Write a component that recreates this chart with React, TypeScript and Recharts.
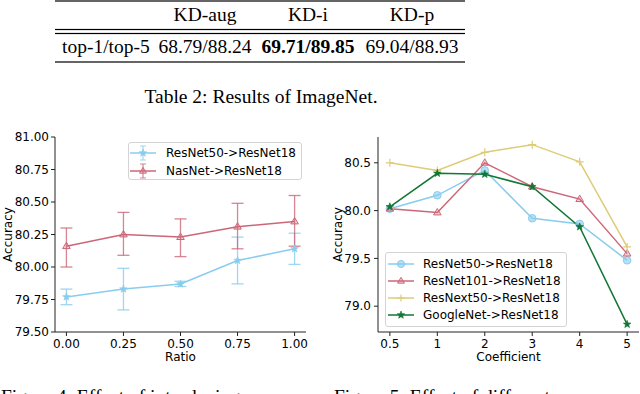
import React from "react";
import { LineChart, Line, XAxis, YAxis, ErrorBar, Legend } from "recharts";

const SANS = '"DejaVu Sans", sans-serif';
const SERIF = '"Liberation Serif", "Times New Roman", serif';

const BLUE = "#88CCEE";
const RED = "#CC6677";
const YELLOW = "#DDCC77";
const GREEN = "#117733";

// Table 2
const tableHeads = ["KD-aug", "KD-i", "KD-p"];
const tableRowLabel = "top-1/top-5";
const tableValues = ["68.79/88.24", "69.71/89.85", "69.04/88.93"];
const tableBest = 1;

// Figure 4: ratio
const ratios = [0, 0.25, 0.5, 0.75, 1.0];
const r50Mean = [79.77, 79.83, 79.87, 80.05, 80.14];
const r50Low = [79.71, 79.67, 79.85, 79.87, 80.02];
const r50High = [79.83, 79.99, 79.89, 80.23, 80.26];
const nasMean = [80.16, 80.25, 80.23, 80.31, 80.35];
const nasLow = [80.0, 80.09, 80.08, 80.14, 80.16];
const nasHigh = [80.3, 80.42, 80.37, 80.49, 80.55];
const ratioTicks = [0, 0.25, 0.5, 0.75, 1.0];
const accTicksL = [79.5, 79.75, 80.0, 80.25, 80.5, 80.75, 81.0];

// Figure 5: coefficient
const coefLabels = ["0.5", "1", "2", "3", "4", "5"];
const cR50 = [80.02, 80.16, 80.42, 79.92, 79.86, 79.48];
const cR101 = [80.02, 79.98, 80.5, 80.25, 80.12, 79.55];
const cRx50 = [80.5, 80.42, 80.61, 80.69, 80.51, 79.62];
const cGoog = [80.04, 80.39, 80.38, 80.25, 79.83, 78.81];
const accTicksR = [79.0, 79.5, 80.0, 80.5];

const ratioData = ratios.map((r, i) => ({
  ratio: r,
  r50: r50Mean[i],
  r50Err: [r50Mean[i] - r50Low[i], r50High[i] - r50Mean[i]],
  nas: nasMean[i],
  nasErr: [nasMean[i] - nasLow[i], nasHigh[i] - nasMean[i]],
}));

const coefData = coefLabels.map((_, i) => ({
  idx: i,
  r50: cR50[i],
  r101: cR101[i],
  rx50: cRx50[i],
  goog: cGoog[i],
}));

const FS = 12;
const tickStyle = { fontFamily: SANS, fontSize: FS, fill: "#000" };

// markers
function starPath(cx: number, cy: number, r: number) {
  let d = "";
  for (let k = 0; k < 10; k++) {
    const rr = k % 2 === 0 ? r : r * 0.42;
    const a = -Math.PI / 2 + (k * Math.PI) / 5;
    d += (k === 0 ? "M" : "L") + (cx + rr * Math.cos(a)).toFixed(2) + "," + (cy + rr * Math.sin(a)).toFixed(2);
  }
  return d + "Z";
}

const Star = ({ cx, cy, r, color }: any) => (
  <path d={starPath(cx, cy, r)} fill={color} stroke={color} strokeWidth={0.6} />
);
const Tri = ({ cx, cy, r, color }: any) => (
  <path
    d={`M${cx},${cy - r}L${cx + r * 0.95},${cy + r * 0.6}L${cx - r * 0.95},${cy + r * 0.6}Z`}
    fill={color}
    fillOpacity={0.3}
    stroke={color}
    strokeWidth={1}
  />
);
const Circ = ({ cx, cy, r, color }: any) => (
  <circle cx={cx} cy={cy} r={r} fill={color} fillOpacity={0.6} stroke={color} strokeWidth={1} />
);
const Plus = ({ cx, cy, r, color }: any) => (
  <path d={`M${cx - r},${cy}H${cx + r}M${cx},${cy - r}V${cy + r}`} stroke={color} strokeWidth={1.2} />
);

const markers: Record<string, any> = { star: Star, tri: Tri, circ: Circ, plus: Plus };

const dotFn = (kind: string, color: string, r: number) => (p: any) => {
  const M = markers[kind];
  return <M key={"d" + p.index} cx={p.cx} cy={p.cy} r={r} color={color} />;
};

type Item = { label: string; color: string; kind: string; err?: boolean };

const legendL: Item[] = [
  { label: "ResNet50->ResNet18", color: BLUE, kind: "star", err: true },
  { label: "NasNet->ResNet18", color: RED, kind: "tri", err: true },
];
const legendR: Item[] = [
  { label: "ResNet50->ResNet18", color: BLUE, kind: "circ" },
  { label: "ResNet101->ResNet18", color: RED, kind: "tri" },
  { label: "ResNext50->ResNet18", color: YELLOW, kind: "plus" },
  { label: "GoogleNet->ResNet18", color: GREEN, kind: "star" },
];

const LegendBox = ({ items, width, height, rowH, padTop, padLeft, gap }: any) => (
  <div
    style={{
      width,
      height,
      boxSizing: "border-box",
      border: "1px solid #d4d4d4",
      borderRadius: 3,
      background: "rgba(255,255,255,0.85)",
      paddingTop: padTop,
    }}
  >
    {items.map((it: Item) => {
      const M = markers[it.kind];
      return (
        <div key={it.label} style={{ display: "flex", alignItems: "center", height: rowH }}>
          <svg width={26} height={14} style={{ marginLeft: padLeft, marginRight: gap, overflow: "visible", flex: "none" }}>
            <line x1={0} y1={7} x2={26} y2={7} stroke={it.color} strokeWidth={1.5} />
            {it.err && (
              <path d="M13,0V14M10,0H16M10,14H16" stroke={it.color} strokeWidth={1.2} strokeOpacity={0.8} />
            )}
            <M cx={13} cy={7} r={it.kind === "star" ? 4 : 3.6} color={it.color} />
          </svg>
          <span style={{ fontFamily: SANS, fontSize: FS, lineHeight: 1, color: "#000", whiteSpace: "nowrap" }}>
            {it.label}
          </span>
        </div>
      );
    })}
  </div>
);

const TopTable = () => {
  const rule = (y: number) => <rect x={55} y={y - 0.6} width={410} height={1.2} fill="#000" />;
  const cols = [205, 308, 412];
  return (
    <svg width={640} height={120} style={{ position: "absolute", left: 0, top: 0 }}>
      {rule(1)}
      {rule(29.5)}
      {rule(33.5)}
      {rule(62)}
      {tableHeads.map((h, i) => (
        <text key={h} x={cols[i]} y={21} textAnchor="middle" fontFamily={SERIF} fontSize={19.5} fill="#000">
          {h}
        </text>
      ))}
      <text x={62} y={53} fontFamily={SERIF} fontSize={19.5} fill="#000">
        {tableRowLabel}
      </text>
      {tableValues.map((v, i) => (
        <text
          key={v}
          x={cols[i]}
          y={53}
          textAnchor="middle"
          fontFamily={SERIF}
          fontSize={19.5}
          fontWeight={i === tableBest ? "bold" : "normal"}
          fill="#000"
        >
          {v}
        </text>
      ))}
      <text x={261} y={103} textAnchor="middle" fontFamily={SERIF} fontSize={19.5} fill="#000">
        Table 2: Results of ImageNet.
      </text>
    </svg>
  );
};

const BottomCaptions = () => (
  <svg width={640} height={30} style={{ position: "absolute", left: 0, top: 370 }}>
    <text x={1} y={33} fontFamily={SERIF} fontSize={19.5} fill="#000">
      Figure 4: Effect of introducing
    </text>
    <text x={334} y={33} fontFamily={SERIF} fontSize={19.5} fill="#000">
      Figure 5: Effect of different
    </text>
  </svg>
);

const axisLine = { stroke: "#222", strokeWidth: 1 };

const RatioChart = () => (
  <div style={{ position: "absolute", left: 0, top: 120 }}>
    <LineChart width={320} height={254} data={ratioData} margin={{ top: 17, right: 14, bottom: 0, left: 5 }}>
      <XAxis
        dataKey="ratio"
        type="number"
        domain={[-0.05, 1.05]}
        allowDataOverflow
        ticks={ratioTicks}
        tickFormatter={(v: number) => v.toFixed(2)}
        tick={tickStyle}
        tickSize={4}
        tickMargin={3}
        axisLine={axisLine}
        tickLine={axisLine}
        height={42}
        label={{ value: "Ratio", position: "insideBottom", offset: 13, style: tickStyle }}
      />
      <XAxis xAxisId="top" orientation="top" dataKey="ratio" type="number" domain={[-0.05, 1.05]} allowDataOverflow tick={false} tickLine={false} axisLine={axisLine} height={0} />
      <YAxis
        type="number"
        domain={[79.5, 81.0]}
        allowDataOverflow
        ticks={accTicksL}
        tickFormatter={(v: number) => v.toFixed(2)}
        tick={tickStyle}
        tickSize={4}
        tickMargin={2}
        axisLine={axisLine}
        tickLine={axisLine}
        width={50}
        label={{ value: "Accuracy", angle: -90, position: "insideLeft", offset: 3, style: { ...tickStyle, textAnchor: "middle" } }}
      />
      <YAxis yAxisId="right" orientation="right" type="number" domain={[79.5, 81.0]} tick={false} tickLine={false} axisLine={axisLine} width={0} />
      <Line dataKey="r50" stroke={BLUE} strokeWidth={1.5} dot={dotFn("star", BLUE, 4)} isAnimationActive={false}>
        <ErrorBar dataKey="r50Err" direction="y" width={6} stroke={BLUE} strokeWidth={1.3} strokeOpacity={0.8} isAnimationActive={false} />
      </Line>
      <Line dataKey="nas" stroke={RED} strokeWidth={1.5} dot={dotFn("tri", RED, 4)} isAnimationActive={false}>
        <ErrorBar dataKey="nasErr" direction="y" width={6} stroke={RED} strokeWidth={1.3} strokeOpacity={0.8} isAnimationActive={false} />
      </Line>
      <Legend
        layout="vertical"
        align="center"
        verticalAlign="middle"
        wrapperStyle={{ left: 128, top: 22, width: "auto", height: "auto" }}
        content={() => <LegendBox items={legendL} width={174} height={38} rowH={18} padTop={1} padLeft={1} gap={10} />}
      />
    </LineChart>
  </div>
);

const CoefChart = () => (
  <div style={{ position: "absolute", left: 320, top: 120 }}>
    <LineChart width={320} height={254} data={coefData} margin={{ top: 17, right: 1, bottom: 0, left: 5 }}>
      <XAxis
        dataKey="idx"
        type="number"
        domain={[-0.25, 5.25]}
        allowDataOverflow
        ticks={coefLabels.map((_, i) => i)}
        tickFormatter={(v: number) => coefLabels[v]}
        tick={tickStyle}
        tickSize={4}
        tickMargin={3}
        axisLine={axisLine}
        tickLine={axisLine}
        height={42}
        label={{ value: "Coefficient", position: "insideBottom", offset: 13, style: tickStyle }}
      />
      <XAxis xAxisId="top" orientation="top" dataKey="idx" type="number" domain={[-0.25, 5.25]} allowDataOverflow tick={false} tickLine={false} axisLine={axisLine} height={0} />
      <YAxis
        type="number"
        domain={[78.73, 80.77]}
        allowDataOverflow
        ticks={accTicksR}
        tickFormatter={(v: number) => v.toFixed(1)}
        tick={tickStyle}
        tickSize={4}
        tickMargin={3}
        axisLine={axisLine}
        tickLine={axisLine}
        width={53}
        label={{ value: "Accuracy", angle: -90, position: "insideLeft", offset: 13, style: { ...tickStyle, textAnchor: "middle" } }}
      />
      <YAxis yAxisId="right" orientation="right" type="number" domain={[78.73, 80.77]} tick={false} tickLine={false} axisLine={axisLine} width={0} />
      <Line dataKey="r50" stroke={BLUE} strokeWidth={1.5} dot={dotFn("circ", BLUE, 3.8)} isAnimationActive={false} />
      <Line dataKey="r101" stroke={RED} strokeWidth={1.5} dot={dotFn("tri", RED, 4)} isAnimationActive={false} />
      <Line dataKey="rx50" stroke={YELLOW} strokeWidth={1.5} dot={dotFn("plus", YELLOW, 4)} isAnimationActive={false} />
      <Line dataKey="goog" stroke={GREEN} strokeWidth={1.5} dot={dotFn("star", GREEN, 4)} isAnimationActive={false} />
      <Legend
        layout="vertical"
        align="center"
        verticalAlign="middle"
        wrapperStyle={{ left: 65, top: 132, width: "auto", height: "auto" }}
        content={() => <LegendBox items={legendR} width={182} height={75} rowH={17} padTop={2.5} padLeft={2} gap={9} />}
      />
    </LineChart>
  </div>
);

export default function App() {
  return (
    <div style={{ position: "fixed", left: 0, top: 0, width: 640, height: 394, background: "#fff", overflow: "hidden" }}>
      <TopTable />
      <RatioChart />
      <CoefChart />
      <BottomCaptions />
    </div>
  );
}
